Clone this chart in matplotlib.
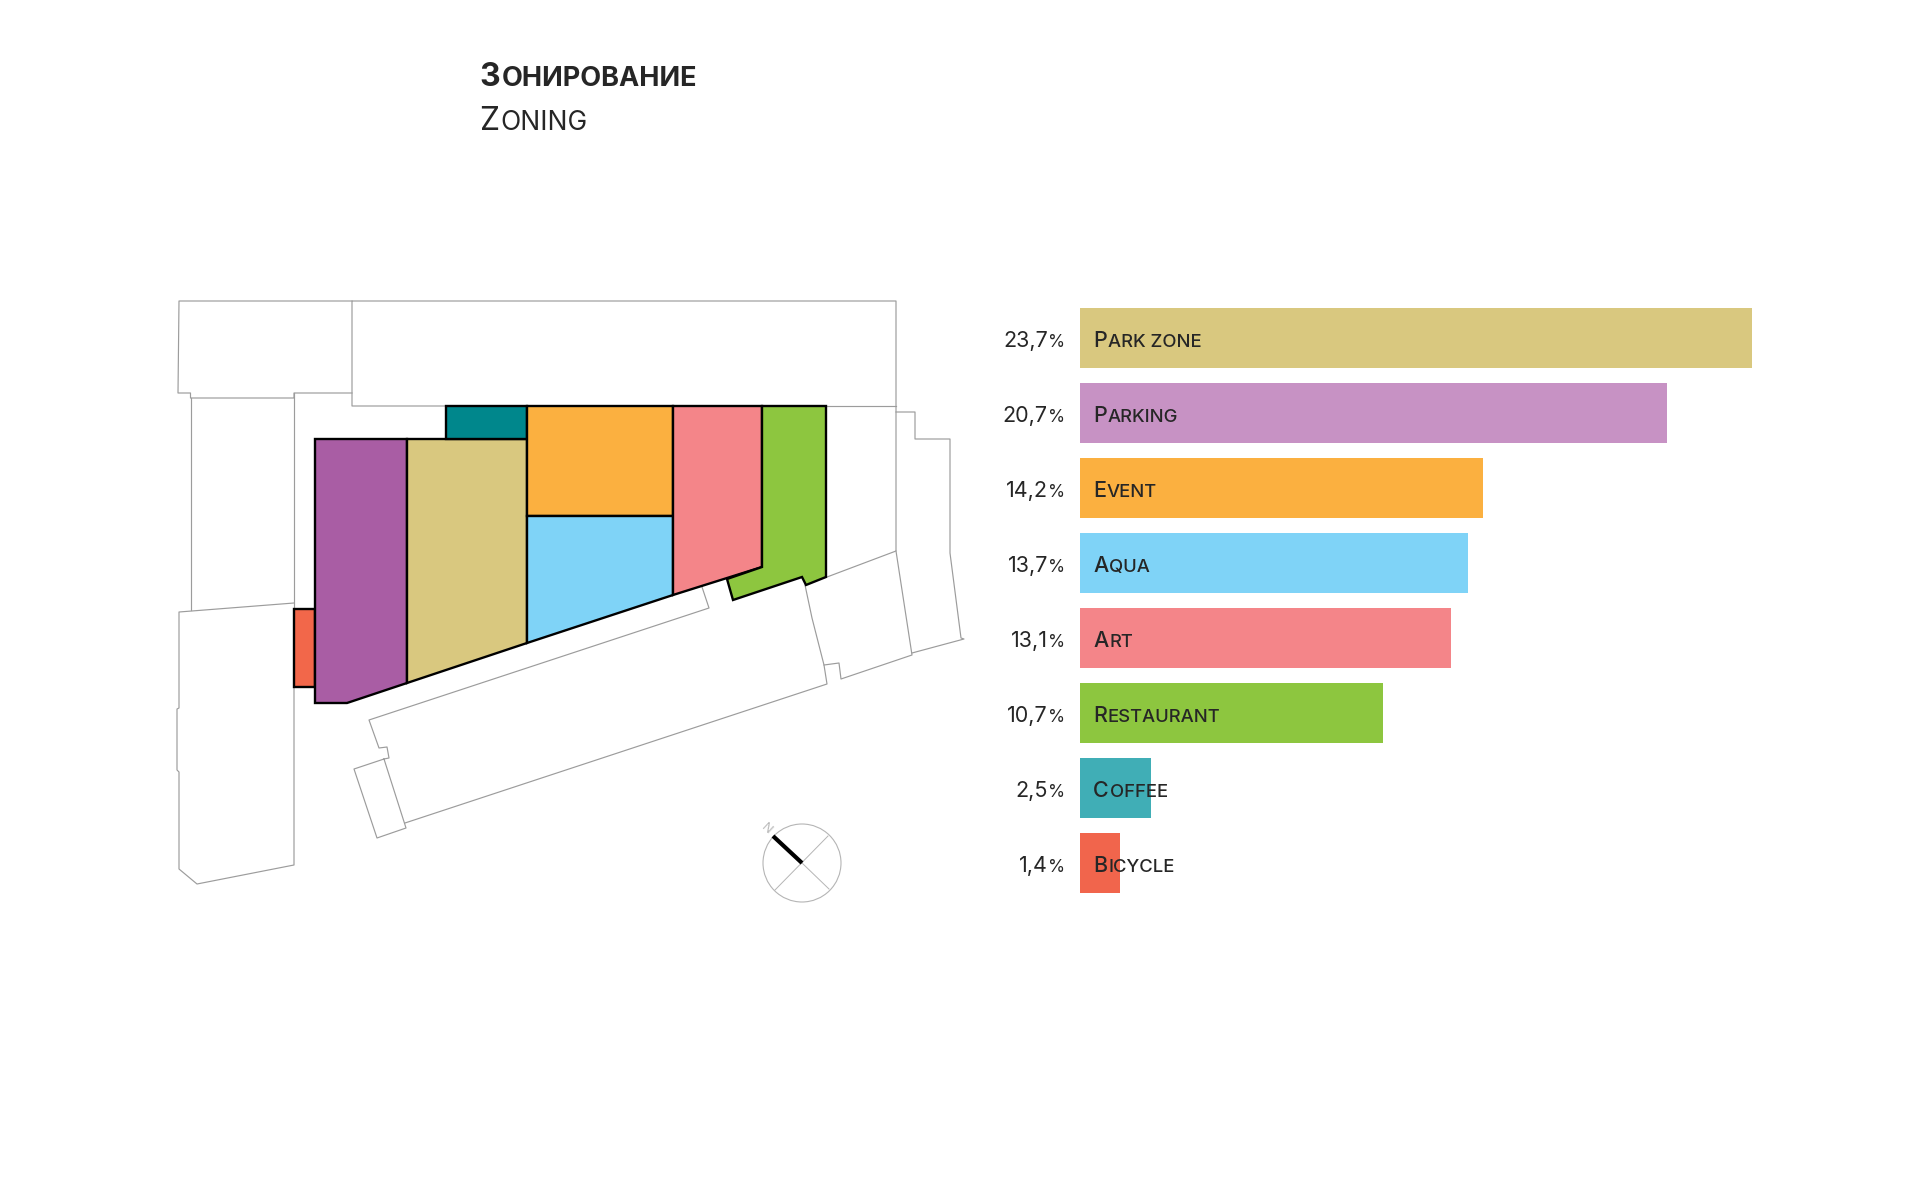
import matplotlib
matplotlib.use("Agg")
import matplotlib.pyplot as plt
from matplotlib.patches import Polygon, Circle

plt.rcParams['font.family'] = ['Inter', 'DejaVu Sans']

# Bars
categories = ["Park zone", "Parking", "Event", "Aqua", "Art", "Restaurant", "Coffee", "Bicycle"]
shares = [23.7, 20.7, 14.2, 13.7, 13.1, 10.7, 2.5, 1.4]
share_labels = ["23,7", "20,7", "14,2", "13,7", "13,1", "10,7", "2,5", "1,4"]
bar_colors = ["#D9C87F", "#C792C4", "#FBB040", "#7FD3F7", "#F48589", "#8DC63F", "#40AEB6", "#F1654C"]

# Plan zones, in pixels of the 1920x1200 picture
zone_bicycle = [(294, 609), (315, 609), (315, 687), (294, 687)]
zone_parking = [(315, 439), (407, 439), (407, 683), (347, 703), (315, 703)]
zone_park = [(407, 439), (527, 439), (527, 643), (407, 683)]
zone_coffee = [(446, 406), (527, 406), (527, 439), (446, 439)]
zone_event = [(527, 406), (673, 406), (673, 516), (527, 516)]
zone_aqua = [(527, 516), (673, 516), (673, 595), (527, 643)]
zone_art = [(673, 406), (762, 406), (762, 567), (673, 595)]
zone_restaurant = [(762, 406), (826, 406), (826, 577), (806, 585), (802, 577),
                   (733, 600), (727, 579), (762, 567)]

zones = [zone_bicycle, zone_parking, zone_park, zone_coffee, zone_event, zone_aqua, zone_art, zone_restaurant]
zone_colors = ["#F2674A", "#A95DA4", "#D9C87F", "#00878C", "#FBB040", "#7FD3F7", "#F48589", "#8DC63F"]

# Surrounding buildings
outline_top_left = [(352, 301), (179, 301), (178, 393), (190.5, 393), (190.5, 398),
                    (294, 398), (294, 393), (352, 393)]
outline_top_wide = [(446, 406), (352, 406), (352, 301), (896, 301), (896, 551), (827, 577)]
outline_top_right = [(826, 406), (896, 406)]
outline_left_tall = [(190.5, 398), (190.5, 610)]
outline_left_inner = [(294, 393), (294, 609)]
outline_left_low = [(294, 603), (179, 612), (179, 708), (177, 709), (177, 770), (179, 772),
                    (179, 869), (197, 884), (294, 865), (294, 687)]
outline_right = [(896, 412), (915, 412), (915, 439), (950, 439), (950, 553), (961, 638),
                 (964, 639), (912, 653)]
outline_right_block = [(896, 551), (912, 655), (841, 679), (839, 663), (824, 665)]
outline_long = [(805, 585), (812, 618), (824, 665), (827, 684), (405, 823)]
outline_long_top = [(384, 759), (389, 758), (387, 747), (379, 748), (369, 720), (709, 608), (702, 587)]
outline_small = [(384, 759), (354, 769), (377, 838), (406, 828), (384, 759)]

outlines = [outline_top_left, outline_top_wide, outline_top_right, outline_left_tall, outline_left_inner,
            outline_left_low, outline_right, outline_right_block, outline_long, outline_long_top, outline_small]

# Compass
compass_center = (802, 863)
compass_radius = 39
compass_cross = [[(775, 890), (828, 836)], [(802, 863), (829, 889)]]
compass_needle = [(773, 836), (802, 863)]

TEXT_COLOR = "#262626"
GREY = "#9c9c9c"


def small_caps(ax, xy, first, rest, big, small, dx=0, dy=0, weight="normal", gap=1.0):
    # matplotlib has no small caps, so capital and the rest are set one after the other
    t = ax.annotate(first, xy, xytext=(dx, dy), textcoords="offset pixels", fontsize=big,
                    fontweight=weight, color=TEXT_COLOR, va="baseline", ha="left", zorder=5)
    w = t.get_window_extent(fig.canvas.get_renderer()).width
    ax.annotate(rest, xy, xytext=(dx + w + gap, dy), textcoords="offset pixels", fontsize=small,
                fontweight=weight, color=TEXT_COLOR, va="baseline", ha="left", zorder=5)


fig = plt.figure(figsize=(19.2, 12), dpi=100, facecolor="white")

# Plan
ax = fig.add_axes([0, 0, 1, 1])
ax.set_xlim(0, 1920)
ax.set_ylim(1200, 0)
ax.axis("off")

for pts in outlines:
    ax.plot([p[0] for p in pts], [p[1] for p in pts], color=GREY, lw=0.85, zorder=1)
for pts, c in zip(zones, zone_colors):
    ax.add_patch(Polygon(pts, closed=True, facecolor=c, edgecolor="black", lw=1.7, zorder=2, joinstyle="miter"))

ax.add_patch(Circle(compass_center, compass_radius, facecolor="none", edgecolor="#b5b5b5", lw=0.8))
for seg in compass_cross:
    ax.plot([seg[0][0], seg[1][0]], [seg[0][1], seg[1][1]], color="#b5b5b5", lw=0.7)
ax.plot([compass_needle[0][0], compass_needle[1][0]], [compass_needle[0][1], compass_needle[1][1]],
        color="black", lw=3.0, solid_capstyle="butt")
ax.text(766, 829, "N", fontsize=9, color="#b5b5b5", rotation=-43, ha="center", va="center")

small_caps(ax, (479, 86), "З", "ОНИРОВАНИЕ", 23, 19.5, weight="bold", gap=2)
small_caps(ax, (479, 130), "Z", "ONING", 23, 19, weight="normal", gap=1)

# Bars
bx = fig.add_axes([1080 / 1920, 1 - 900.5 / 1200, 672 / 1920, 600 / 1200])
bx.barh(range(len(categories)), shares, height=0.8, color=bar_colors)
bx.set_xlim(0, 23.7)
bx.set_ylim(7.5, -0.5)
bx.axis("off")

for i, cat in enumerate(categories):
    small_caps(bx, (0, i), cat[0], cat[1:].upper(), 15.5, 13.3, dx=13, dy=-9, weight="medium")
    pct = bx.annotate("%", (0, i), xytext=(-15, -9), textcoords="offset pixels", fontsize=12.5,
                      color=TEXT_COLOR, ha="right", va="baseline", zorder=5)
    w = pct.get_window_extent(fig.canvas.get_renderer()).width
    bx.annotate(share_labels[i], (0, i), xytext=(-15 - w, -9), textcoords="offset pixels", fontsize=15.5,
                color=TEXT_COLOR, ha="right", va="baseline", zorder=5)

fig.savefig("out.png", dpi=100)
